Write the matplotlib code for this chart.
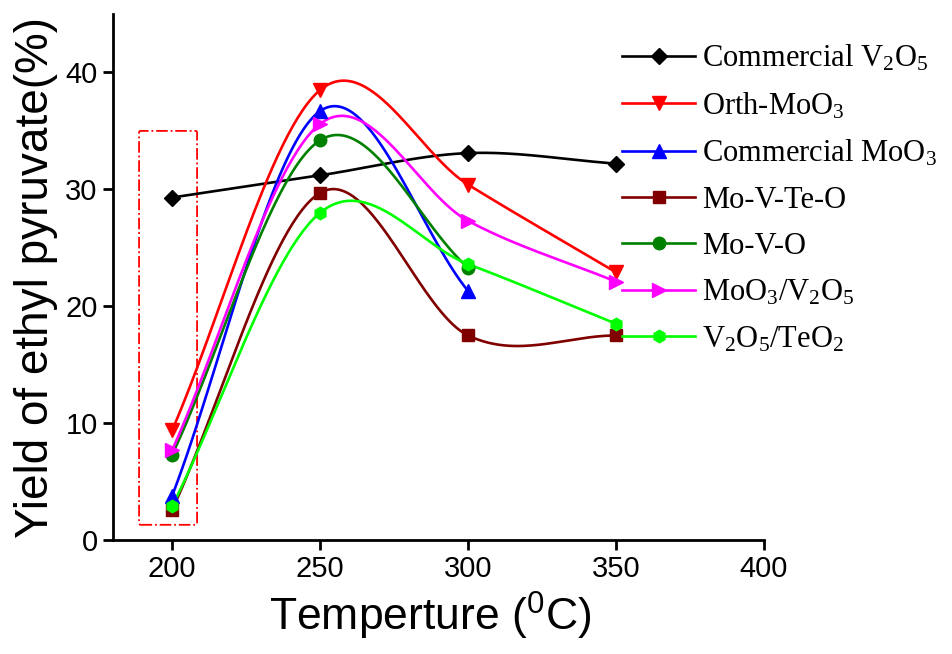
import numpy as np
import matplotlib
matplotlib.use("Agg")
import matplotlib.pyplot as plt
from matplotlib.patches import FancyBboxPatch

temps = [200, 250, 300, 350]
comm_v2o5 = [29.3, 31.2, 33.1, 32.2]
orth_moo3 = [9.4, 38.5, 30.4, 22.9]
comm_moo3 = [3.8, 36.7, 21.3]
mo_v_te_o = [2.6, 29.7, 17.5, 17.5]
mo_v_o = [7.3, 34.2, 23.3]
moo3_v2o5 = [7.7, 35.6, 27.3, 22.1]
v2o5_teo2 = [2.9, 28.0, 23.6, 18.5]

labels = [r'Commercial V$\mathregular{_2}$O$\mathregular{_5}$',
          r'Orth-MoO$\mathregular{_3}$',
          r'Commercial MoO$\mathregular{_3}$',
          'Mo-V-Te-O', 'Mo-V-O',
          r'MoO$\mathregular{_3}$/V$\mathregular{_2}$O$\mathregular{_5}$',
          r'V$\mathregular{_2}$O$\mathregular{_5}$/TeO$\mathregular{_2}$']
series = [comm_v2o5, orth_moo3, comm_moo3, mo_v_te_o, mo_v_o, moo3_v2o5, v2o5_teo2]
colors = ['black', '#ff0000', '#0000ff', '#800000', '#008000', '#ff00ff', '#00ff00']
markers = ['D', 'v', '^', 's', 'o', '>', 'h']
msizes = [8, 9.5, 9.5, 8, 9, 9.5, 9]

sans = 'Liberation Sans'
serif = 'Liberation Serif'


def cardinal_spline(x, y, n=60):
    """Hermite curve with Catmull-Rom tangents (one-sided at the ends)."""
    x = np.asarray(x, float); y = np.asarray(y, float)
    k = len(x)
    m = np.empty(k)
    m[0] = (y[1] - y[0]) / (x[1] - x[0])
    m[-1] = (y[-1] - y[-2]) / (x[-1] - x[-2])
    for i in range(1, k - 1):
        m[i] = (y[i + 1] - y[i - 1]) / (x[i + 1] - x[i - 1])
    xs_all, ys_all = [], []
    for i in range(k - 1):
        h = x[i + 1] - x[i]
        t = np.linspace(0, 1, n)
        h00 = 2 * t**3 - 3 * t**2 + 1
        h10 = t**3 - 2 * t**2 + t
        h01 = -2 * t**3 + 3 * t**2
        h11 = t**3 - t**2
        ys = h00 * y[i] + h10 * h * m[i] + h01 * y[i + 1] + h11 * h * m[i + 1]
        xs_all.append(x[i] + t * h); ys_all.append(ys)
    return np.concatenate(xs_all), np.concatenate(ys_all)


fig = plt.figure(figsize=(9.53, 6.54), dpi=100)
ax = fig.add_axes([0.1186, 0.1743, 0.6831, 0.8043])

handles = []
for vals, lab, col, mk, ms in zip(series, labels, colors, markers, msizes):
    x = temps[:len(vals)]
    xs, ys = cardinal_spline(x, vals)
    ax.plot(xs, ys, color=col, lw=1.9, zorder=2)
    ax.plot(x, vals, ls='none', marker=mk, color=col, ms=ms, zorder=3)
    h, = ax.plot([], [], color=col, lw=1.9, marker=mk, ms=ms, label=lab)
    handles.append(h)

rect = FancyBboxPatch((188.8, 1.3), 19.6, 33.7, boxstyle='round,pad=0,rounding_size=0.5',
                      fill=False, edgecolor='#ff0000', lw=1.3, linestyle='-.', zorder=1,
                      mutation_aspect=0.3)
ax.add_patch(rect)

ax.set_xlim(180, 400)
ax.set_ylim(0, 45)
ax.set_xticks([200, 250, 300, 350, 400])
ax.set_yticks([0, 10, 20, 30, 40])
for s in ['top', 'right']:
    ax.spines[s].set_visible(False)
for s in ['left', 'bottom']:
    ax.spines[s].set_linewidth(2)
ax.tick_params(direction='out', length=7, width=2, labelsize=21, pad=4)
for t in ax.get_xticklabels() + ax.get_yticklabels():
    t.set_fontfamily(sans)

ax.set_xlabel(r'Temperture ($\mathregular{^0}$C)', fontsize=32, family=sans, labelpad=6)
ax.xaxis.set_label_coords(0.487, -0.095)
ax.xaxis.label.set_va('top')
ax.set_ylabel('Yield of ethyl pyruvate(%)', fontsize=33, family=sans)
ax.yaxis.set_label_coords(-0.085, 0.5)

leg = fig.legend(handles=handles, loc='upper left', bbox_to_anchor=(622 / 953, 1 - 43 / 654),
                 frameon=False, prop={'family': serif, 'size': 22},
                 handlelength=2.4, handletextpad=0.22, labelspacing=0.56,
                 borderpad=0, borderaxespad=0)

fig.savefig('out.png', dpi=100)
